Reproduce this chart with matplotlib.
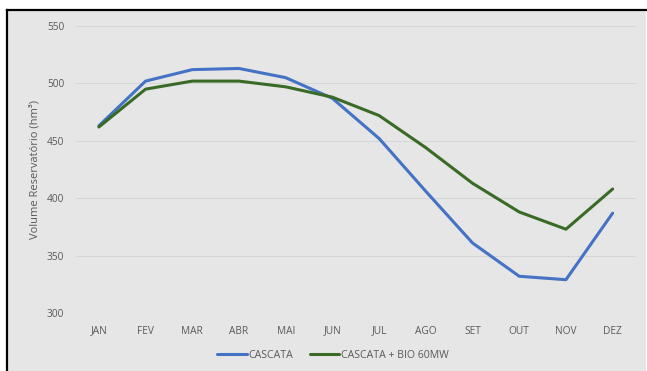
import matplotlib.pyplot as plt
from matplotlib.lines import Line2D
from matplotlib.patches import Rectangle

months = ["JAN", "FEV", "MAR", "ABR", "MAI", "JUN", "JUL", "AGO", "SET", "OUT", "NOV", "DEZ"]
cascata = [463, 502, 512, 513, 505, 487, 452, 406, 361, 332, 329, 387]
cascata_bio = [462, 495, 502, 502, 497, 488, 472, 444, 413, 388, 373, 408]
yticks = [300, 350, 400, 450, 500, 550]

plt.rcParams['font.family'] = ['Open Sans', 'DejaVu Sans']
W, H = 647, 371
fig = plt.figure(figsize=(W / 100, H / 100), dpi=100)
fig.patch.set_facecolor('white')

# chart background panel with black left/top border
bg = '#e6e6e6'
fig.patches.append(Rectangle((7 / W, 0), (646 - 7) / W, 1 - 10 / H, transform=fig.transFigure,
                             facecolor=bg, edgecolor='none', zorder=-2))
fig.lines.append(Line2D([7 / W, 7 / W], [0, 1 - 10 / H], transform=fig.transFigure,
                        color='black', lw=1.6, zorder=-1))
fig.lines.append(Line2D([7 / W, 646 / W], [1 - 10 / H, 1 - 10 / H], transform=fig.transFigure,
                        color='black', lw=1.6, zorder=-1))

ax = fig.add_axes([75.5 / W, 1 - 313 / H, (636 - 75.5) / W, (313 - 26) / H])
ax.set_zorder(2)
ax.set_facecolor('none')
x = range(len(months))
ax.plot(x, cascata, color='#4472C4', lw=2.2, label='CASCATA', solid_capstyle='round')
ax.plot(x, cascata_bio, color='#3A6B26', lw=2.2, label='CASCATA + BIO 60MW', solid_capstyle='round')

ax.set_xlim(-0.5, len(months) - 0.5)
ax.set_ylim(300, 550)
ax.set_yticks(yticks)
ax.set_xticks(list(x))
ax.set_xticklabels(months)
ax.grid(axis='y', color='#d6d6d6', lw=0.8)
ax.set_axisbelow(True)
for s in ax.spines.values():
    s.set_visible(False)
ax.tick_params(axis='both', length=0, labelsize=7.3, labelcolor='#595959')
ax.tick_params(axis='x', pad=9)
ax.tick_params(axis='y', pad=8)
ax.set_ylabel('Volume Reservatório (hm³)', fontsize=8, color='#595959', labelpad=5)

leg = fig.legend(loc='center', bbox_to_anchor=(333 / W, 1 - 355 / H), ncol=2, frameon=False,
                 fontsize=7.6, handlelength=2.8, handletextpad=0.15, columnspacing=1.6)
leg.set_zorder(3)
for t in leg.get_texts():
    t.set_color('#595959')

fig.savefig('out.png', dpi=100, facecolor=fig.get_facecolor())
